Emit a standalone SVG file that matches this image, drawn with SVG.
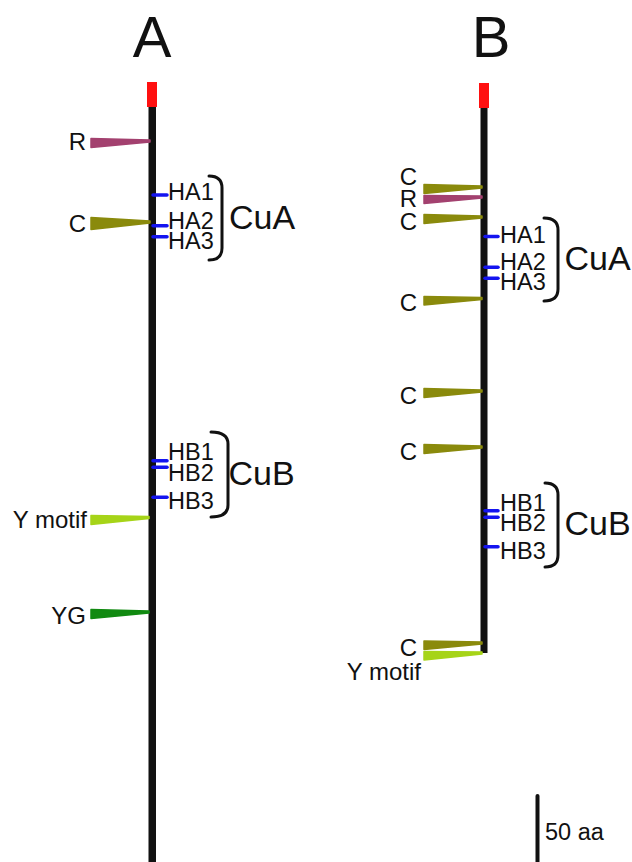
<svg xmlns="http://www.w3.org/2000/svg" width="632" height="862" viewBox="0 0 632 862">
<style>
text{font-family:"Liberation Sans",Arial,sans-serif;fill:#111}
.title{font-size:58px;text-anchor:middle}
.lab{font-size:23.5px}
.lend{font-size:24px;text-anchor:end}
.big{font-size:34px}
.axis{fill:#111}
.cap{fill:#ff1010}
.tick{stroke:#1414f0;stroke-width:3.5;stroke-linecap:round;fill:none}
.br{stroke:#111;stroke-width:3;fill:none;stroke-linecap:round}
.tri{stroke-width:1.5;stroke-linejoin:round}
.cys{fill:#8a8a0c;stroke:#8a8a0c}
.arg{fill:#a3416f;stroke:#a3416f}
.ym{fill:#a6d418;stroke:#a6d418}
.yg{fill:#118a11;stroke:#118a11}
</style>
<rect width="632" height="862" fill="#fff"/>
<g id="protein-A">
<text class="title" x="152" y="57">A</text>
<rect class="axis" x="148.5" y="105" width="7.5" height="757"/>
<rect class="cap" x="147" y="82" width="10" height="25"/>
<g id="A-R"><path class="tri arg" d="M91,138.5 L150,140 L150,142 L91,147.5 Z"/><text class="lend" x="86" y="150">R</text></g>
<g id="A-C"><path class="tri cys" d="M91,217.5 L150,221 L150,223 L91,229.5 Z"/><text class="lend" x="86" y="232">C</text></g>
<g id="A-HA1"><line class="tick" x1="153" y1="195" x2="167" y2="195"/><text class="lab" x="168" y="200">HA1</text></g>
<g id="A-HA2"><line class="tick" x1="153" y1="225.7" x2="167" y2="225.7"/><text class="lab" x="168" y="229">HA2</text></g>
<g id="A-HA3"><line class="tick" x1="153" y1="236.7" x2="167" y2="236.7"/><text class="lab" x="168" y="249">HA3</text></g>
<g id="A-CuA"><path class="br" d="M209,176 Q222,176 222,188 V248 Q222,260 209,260"/><text class="big" x="229" y="228.5">CuA</text></g>
<g id="A-HB1"><line class="tick" x1="153" y1="460.7" x2="167" y2="460.7"/><text class="lab" x="168" y="459.5">HB1</text></g>
<g id="A-HB2"><line class="tick" x1="153" y1="467.3" x2="167" y2="467.3"/><text class="lab" x="168" y="480.7">HB2</text></g>
<g id="A-HB3"><line class="tick" x1="153" y1="497.3" x2="167" y2="497.3"/><text class="lab" x="168" y="509.3">HB3</text></g>
<g id="A-CuB"><path class="br" d="M211,432 Q228,432 228,444 V505 Q228,517 211,517"/><text class="big" x="228.5" y="485">CuB</text></g>
<g id="A-Ymotif"><path class="tri ym" d="M91,515.5 L149,516.5 L149,518.5 L91,524.5 Z"/><text class="lend" x="87" y="528.3">Y motif</text></g>
<g id="A-YG"><path class="tri yg" d="M91,609.5 L149,611 L149,613 L91,618.5 Z"/><text class="lend" x="86" y="624">YG</text></g>
</g>
<g id="protein-B">
<text class="title" x="491" y="57">B</text>
<rect class="axis" x="480.5" y="105" width="7" height="548"/>
<rect class="cap" x="479" y="83" width="10" height="25"/>
<g id="B-C1"><path class="tri cys" d="M424,184.5 L482,186 L482,188 L424,193.5 Z"/><text class="lend" x="417" y="184.5">C</text></g>
<g id="B-R"><path class="tri arg" d="M424,195.5 L482,196 L482,198 L424,203.5 Z"/><text class="lend" x="417" y="207">R</text></g>
<g id="B-C2"><path class="tri cys" d="M424,214.5 L482,216 L482,218 L424,223.5 Z"/><text class="lend" x="417" y="230">C</text></g>
<g id="B-HA1"><line class="tick" x1="485" y1="236.5" x2="498" y2="236.5"/><text class="lab" x="500" y="243">HA1</text></g>
<g id="B-HA2"><line class="tick" x1="485" y1="267.3" x2="498" y2="267.3"/><text class="lab" x="500" y="270">HA2</text></g>
<g id="B-HA3"><line class="tick" x1="485" y1="278.3" x2="498" y2="278.3"/><text class="lab" x="500" y="290">HA3</text></g>
<g id="B-CuA"><path class="br" d="M544,218 Q558,218 558,230 V289 Q558,301 544,301"/><text class="big" x="564.5" y="270">CuA</text></g>
<g id="B-C3"><path class="tri cys" d="M424,296.5 L482,297.5 L482,299.5 L424,305 Z"/><text class="lend" x="417" y="311">C</text></g>
<g id="B-C4"><path class="tri cys" d="M424,388.5 L482,390 L482,392 L424,397.5 Z"/><text class="lend" x="417" y="404">C</text></g>
<g id="B-C5"><path class="tri cys" d="M424,444.5 L482,446 L482,448 L424,453.5 Z"/><text class="lend" x="417" y="460">C</text></g>
<g id="B-HB1"><line class="tick" x1="485" y1="510.7" x2="498" y2="510.7"/><text class="lab" x="500" y="510.7">HB1</text></g>
<g id="B-HB2"><line class="tick" x1="485" y1="517.3" x2="498" y2="517.3"/><text class="lab" x="500" y="530.7">HB2</text></g>
<g id="B-HB3"><line class="tick" x1="485" y1="546.7" x2="498" y2="546.7"/><text class="lab" x="500" y="559.3">HB3</text></g>
<g id="B-CuB"><path class="br" d="M545,483 Q558,483 558,495 V555 Q558,567 545,567"/><text class="big" x="564.5" y="535">CuB</text></g>
<g id="B-C6"><path class="tri cys" d="M424,641 L482,642 L482,644 L424,649.5 Z"/><text class="lend" x="417" y="656">C</text></g>
<g id="B-Ymotif"><path class="tri ym" d="M424,651.5 L482,652 L482,654 L424,660 Z"/><text class="lend" x="421" y="680">Y motif</text></g>
</g>
<g id="connectors"></g>
<g id="scale-bar">
<line x1="537.5" y1="796" x2="537.5" y2="862" stroke="#111" stroke-width="4" stroke-linecap="round"/>
<text class="lab" x="545" y="840">50 aa</text>
</g>
</svg>
